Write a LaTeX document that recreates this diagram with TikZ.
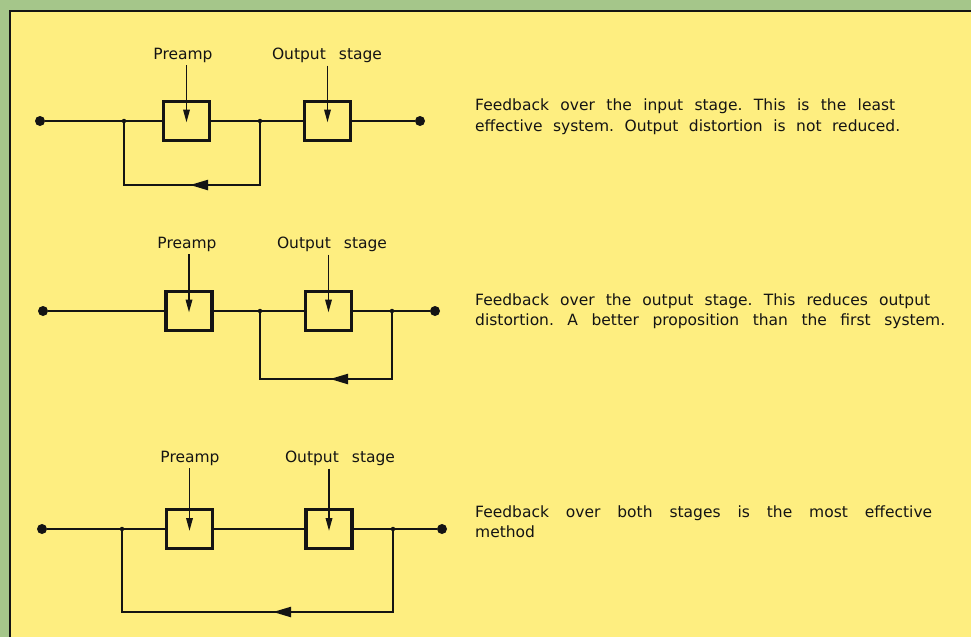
\documentclass[tikz,border=0pt]{standalone}
\usepackage{fontspec}
\setmainfont{DejaVu Sans}
\usetikzlibrary{arrows.meta}
\definecolor{panel}{RGB}{254,238,128}
\definecolor{mat}{RGB}{165,198,138}
\definecolor{ink}{RGB}{20,20,20}
\frenchspacing

\begin{document}
\begin{tikzpicture}[x=1pt,y=-1pt,
  wire/.style={draw=ink,line width=2.2pt,line join=miter},
  stagebox/.style={draw=ink,line width=3.4pt,minimum width=46pt,minimum height=39pt,inner sep=0pt,fill=panel},
  terminal/.style={circle,fill=ink,inner sep=0pt,minimum size=10pt},
  junction/.style={circle,fill=ink,inner sep=0pt,minimum size=4.5pt},
  stagename/.style={font=\fontsize{15.5}{18}\selectfont,text=ink,inner sep=0pt},
  notetext/.style={font=\fontsize{15.5}{20}\selectfont,text=ink,inner sep=0pt,anchor=base west},
  ctrl/.style={draw=ink,line width=1.8pt,-{Triangle[width=6.5pt,length=13pt]}},
  fbtip/.style={draw=ink,line width=2.2pt,-{Triangle[width=10pt,length=18pt]}}
]
\useasboundingbox (0,0) rectangle (971,637);
% mount and panel
\fill[mat] (0,0) rectangle (971,637);
\fill[panel] (10,11) rectangle (971,637);
\draw[ink,line width=2pt] (10,637) -- (10,11) -- (971,11);

% ---------- 1: feedback over the input stage ----------
\node[terminal] (a-in)  at (40,121) {};
\node[junction] (a-j1)  at (124,121) {};
\node[stagebox] (a-pre) at (186.5,121) {};
\node[junction] (a-j2)  at (260,121) {};
\node[stagebox] (a-out) at (327.5,121) {};
\node[terminal] (a-end) at (420,121) {};
\draw[wire] (a-in) -- (a-j1) -- (a-pre) -- (a-j2) -- (a-out) -- (a-end);
\coordinate (a-fr) at (260,185);
\coordinate (a-fl) at (124,185);
\coordinate (a-tip) at (190,185);
\draw[wire] (a-j2.center) -- (a-fr) -- (a-fl) -- (a-j1.center);
\draw[fbtip] (a-fr) -- (a-tip);
\node[stagename] (a-pre-l) at (183,55) {Preamp};
\node[stagename] (a-out-l) at (327,55) {\makebox[110pt][s]{Output stage}};
\draw[ctrl] (a-pre-l.south -| a-pre) ++(0,3) -- ([yshift=-1.5pt]a-pre.center);
\draw[ctrl] (a-out-l.south -| a-out) ++(0,3) -- ([yshift=-1.5pt]a-out.center);
\node[notetext] (a-n1) at (475,110) {\makebox[420pt][s]{Feedback over the input stage. This is the least}};
\node[notetext] (a-n2) at (475,131) {\makebox[425pt][s]{effective system. Output distortion is not reduced.}};

% ---------- 2: feedback over the output stage ----------
\node[terminal] (b-in)  at (43,311) {};
\node[stagebox] (b-pre) at (189,311) {};
\node[junction] (b-j1)  at (260,311) {};
\node[stagebox] (b-out) at (328.5,311) {};
\node[junction] (b-j2)  at (392,311) {};
\node[terminal] (b-end) at (435,311) {};
\draw[wire] (b-in) -- (b-pre) -- (b-j1) -- (b-out) -- (b-j2) -- (b-end);
\coordinate (b-fr) at (392,379);
\coordinate (b-fl) at (260,379);
\coordinate (b-tip) at (330,379);
\draw[wire] (b-j2.center) -- (b-fr) -- (b-fl) -- (b-j1.center);
\draw[fbtip] (b-fr) -- (b-tip);
\node[stagename] (b-pre-l) at (187,244) {Preamp};
\node[stagename] (b-out-l) at (332,244) {\makebox[110pt][s]{Output stage}};
\draw[ctrl] (b-pre-l.south -| b-pre) ++(0,3) -- ([yshift=-1.5pt]b-pre.center);
\draw[ctrl] (b-out-l.south -| b-out) ++(0,3) -- ([yshift=-1.5pt]b-out.center);
\node[notetext] (b-n1) at (475,305) {\makebox[455pt][s]{Feedback over the output stage. This reduces output}};
\node[notetext] (b-n2) at (475,325) {\makebox[470pt][s]{distortion. A better proposition than the first system.}};

% ---------- 3: feedback over both stages ----------
\node[terminal] (c-in)  at (42,529) {};
\node[junction] (c-j1)  at (122,529) {};
\node[stagebox] (c-pre) at (189.5,529) {};
\node[stagebox] (c-out) at (329,529) {};
\node[junction] (c-j2)  at (393,529) {};
\node[terminal] (c-end) at (442,529) {};
\draw[wire] (c-in) -- (c-j1) -- (c-pre) -- (c-out) -- (c-j2) -- (c-end);
\coordinate (c-fr) at (393,612);
\coordinate (c-fl) at (122,612);
\coordinate (c-tip) at (273,612);
\draw[wire] (c-j2.center) -- (c-fr) -- (c-fl) -- (c-j1.center);
\draw[fbtip] (c-fr) -- (c-tip);
\node[stagename] (c-pre-l) at (190,458) {Preamp};
\node[stagename] (c-out-l) at (340,458) {\makebox[110pt][s]{Output stage}};
\draw[ctrl] (c-pre-l.south -| c-pre) ++(0,3) -- ([yshift=-2pt]c-pre.center);
\draw[ctrl] (c-out-l.south -| c-out) ++(0,3) -- ([yshift=-2pt]c-out.center);
\node[notetext] (c-n1) at (475,517) {\makebox[457pt][s]{Feedback over both stages is the most effective}};
\node[notetext] (c-n2) at (475,537) {method};
\end{tikzpicture}
\end{document}
